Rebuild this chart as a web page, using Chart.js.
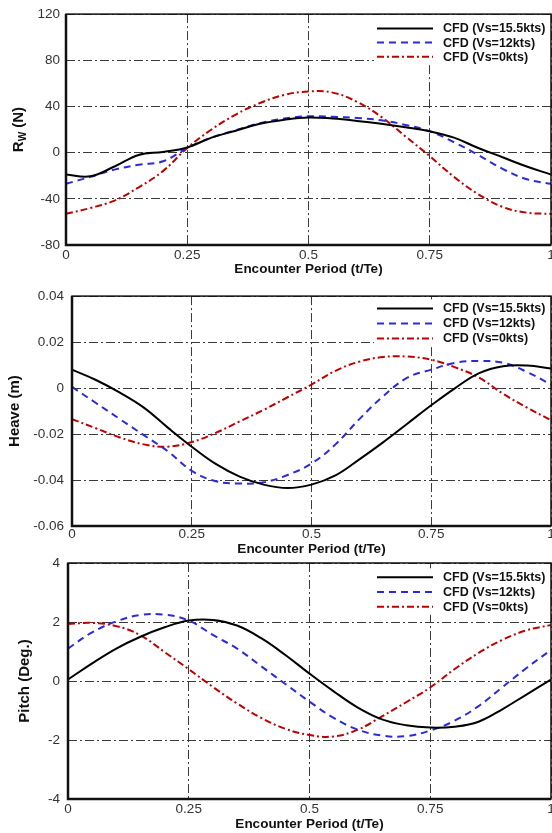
<!DOCTYPE html>
<html>
<head>
<meta charset="utf-8">
<script src="https://cdn.jsdelivr.net/npm/chart.js@4.4.1/dist/chart.umd.min.js"></script>
<style>
  body { margin: 0; background: #fff; width: 552px; height: 833px; overflow: hidden; position: relative; }
  canvas { position: absolute; left: 0; }
</style>
</head>
<body>
<canvas id="rwChart" width="560" height="280" style="top:0"></canvas>
<canvas id="heaveChart" width="560" height="280" style="top:280px"></canvas>
<canvas id="pitchChart" width="560" height="293" style="top:540px"></canvas>
<script>
// encounter period t/Te
const period = [0, 0.05, 0.1, 0.15, 0.2, 0.25, 0.3, 0.35, 0.4, 0.45, 0.5,
                0.55, 0.6, 0.65, 0.7, 0.75, 0.8, 0.85, 0.9, 0.95, 1];
const seriesNames = ['CFD (Vs=15.5kts)', 'CFD (Vs=12kts)', 'CFD (Vs=0kts)'];

// added resistance Rw (N)
const rwFast  = [-19, -20.5, -12, -2, 0.6, 4.5, 13, 19, 25, 28.5, 30.5, 29.5, 27.5, 25, 22, 18.5, 13, 4, -4, -12, -19];
const rwMid   = [-27, -21, -14.7, -10.5, -7.5, 4, 13, 19.5, 25.5, 29.5, 31.5, 31, 30, 28, 24, 18.5, 9, -2, -14, -23, -27];
const rwStill = [-53, -48, -41.5, -30, -16, 4, 20, 33, 43, 50, 53, 52, 44, 31, 14, -3, -21, -36, -47, -52, -53];

// heave (m)
const heaveFast  = [0.008, 0.0035, -0.002, -0.0085, -0.0172, -0.0255, -0.033, -0.0385, -0.042, -0.0435, -0.042,
                    -0.038, -0.031, -0.0235, -0.0155, -0.0075, 0, 0.0065, 0.0095, 0.0098, 0.0085];
const heaveMid   = [0.0005, -0.0065, -0.0135, -0.0205, -0.0275, -0.036, -0.0405, -0.0415, -0.041, -0.0378, -0.0328,
                    -0.0245, -0.0135, -0.0035, 0.0045, 0.008, 0.011, 0.0118, 0.011, 0.007, 0.0015];
const heaveStill = [-0.0135, -0.0175, -0.0215, -0.0245, -0.0255, -0.0235, -0.0195, -0.0145, -0.0095, -0.004, 0.0015,
                    0.0075, 0.0115, 0.0135, 0.0137, 0.0123, 0.009, 0.0045, -0.0025, -0.0085, -0.014];

// pitch (deg)
const pitchFast  = [0.05, 0.6, 1.1, 1.5, 1.82, 2.05, 2.07, 1.88, 1.45, 0.88, 0.25, -0.35, -0.9, -1.3, -1.5, -1.58, -1.55, -1.38, -0.95, -0.45, 0.05];
const pitchMid   = [1.1, 1.65, 2.02, 2.24, 2.25, 2.05, 1.56, 1.1, 0.5, -0.1, -0.7, -1.25, -1.65, -1.85, -1.87, -1.68, -1.35, -0.85, -0.2, 0.45, 1.05];
const pitchStill = [1.93, 1.97, 1.86, 1.55, 0.98, 0.4, -0.2, -0.76, -1.25, -1.62, -1.83, -1.88, -1.65, -1.2, -0.72, -0.22, 0.4, 0.95, 1.4, 1.72, 1.9];

const periodTicks = [0, 0.25, 0.5, 0.75, 1];
const rwTicks = [-80, -40, 0, 40, 80, 120];
const heaveTicks = [-0.06, -0.04, -0.02, 0, 0.02, 0.04];
const pitchTicks = [-4, -2, 0, 2, 4];

const FONT = "'Liberation Sans', Arial, sans-serif";
const lineStyles = [
  { color: '#000000', dash: [] },
  { color: '#2b2bd9', dash: [7, 5] },
  { color: '#c00000', dash: [7, 3, 2, 3] }
];

// white legend box in the upper right of the plot
const boxLegend = {
  id: 'boxLegend',
  afterDatasetsDraw(chart, args, opts) {
    const { ctx, chartArea: a } = chart;
    const rows = chart.data.datasets.map((ds, i) => a.top + opts.first + i * opts.step);
    const top = opts.boxTop != null ? a.top + opts.boxTop : rows[0] - 9;
    ctx.save();
    ctx.fillStyle = '#fff';
    ctx.fillRect(a.right - 177, top, 177, rows[2] + 8 - top);
    chart.data.datasets.forEach((ds, i) => {
      ctx.beginPath();
      ctx.strokeStyle = ds.borderColor;
      ctx.lineWidth = ds.borderWidth;
      ctx.setLineDash(ds.borderDash);
      ctx.moveTo(a.right - 174, rows[i]);
      ctx.lineTo(a.right - 118, rows[i]);
      ctx.stroke();
      ctx.setLineDash([]);
      ctx.fillStyle = '#111';
      ctx.font = 'bold 12.5px ' + FONT;
      ctx.textBaseline = 'middle';
      ctx.fillText(ds.label, a.right - 108, rows[i] + 0.5);
    });
    ctx.restore();
  }
};

// box around the plot, heavier on the left and bottom
const plotFrame = {
  id: 'plotFrame',
  afterDraw(chart) {
    const { ctx, chartArea: a } = chart;
    ctx.save();
    ctx.strokeStyle = '#111';
    ctx.lineWidth = 1.5;
    ctx.strokeRect(a.left, a.top, a.right - a.left, a.bottom - a.top);
    ctx.lineWidth = 2.5;
    ctx.beginPath();
    ctx.moveTo(a.left, a.top);
    ctx.lineTo(a.left, a.bottom);
    ctx.lineTo(a.right, a.bottom);
    ctx.stroke();
    ctx.restore();
  }
};

// R_W (N) with a subscript, drawn rotated beside the y axis
const rwAxisTitle = {
  id: 'rwAxisTitle',
  afterDraw(chart) {
    const { ctx, chartArea: a } = chart;
    const big = 'bold 15px ' + FONT, small = 'bold 10px ' + FONT;
    ctx.save();
    ctx.translate(19, (a.top + a.bottom) / 2);
    ctx.rotate(-Math.PI / 2);
    ctx.fillStyle = '#111';
    ctx.textBaseline = 'middle';
    ctx.font = big;
    const wR = ctx.measureText('R').width, wN = ctx.measureText(' (N)').width;
    ctx.font = small;
    const wW = ctx.measureText('W').width;
    let x = -(wR + wW + wN) / 2;
    ctx.font = big;
    ctx.fillText('R', x, 0);
    x += wR;
    ctx.font = small;
    ctx.fillText('W', x, 4);
    x += wW;
    ctx.font = big;
    ctx.fillText(' (N)', x, 0);
    ctx.restore();
  }
};

function makeChart(id, values, yTicks, yTitle, g, extra) {
  const datasets = values.map((arr, i) => ({
    label: seriesNames[i],
    data: period.map((t, j) => ({ x: t, y: arr[j] })),
    borderColor: lineStyles[i].color,
    borderDash: lineStyles[i].dash,
    borderWidth: 2,
    pointRadius: 0,
    tension: 0.4,
    fill: false
  }));
  const gridStyle = { color: '#3a3a3a', lineWidth: 1, drawTicks: false };
  return new Chart(document.getElementById(id), {
    type: 'line',
    data: { datasets },
    plugins: [boxLegend, plotFrame].concat(extra || []),
    options: {
      responsive: false,
      animation: false,
      layout: { padding: { top: g.top, right: 9, left: 0, bottom: 0 } },
      plugins: {
        legend: { display: false },
        tooltip: { enabled: false },
        boxLegend: g.legend
      },
      scales: {
        x: {
          type: 'linear',
          min: 0, max: 1,
          afterBuildTicks: s => { s.ticks = periodTicks.map(v => ({ value: v })); },
          afterFit: s => { s.height = g.xHeight; },
          grid: gridStyle,
          border: { display: false, dash: [9, 3, 2, 3] },
          ticks: { padding: g.xPad, maxRotation: 0, color: '#333', font: { family: FONT, size: 13.5 }, callback: v => String(v) },
          title: { display: true, text: 'Encounter Period (t/Te)', color: '#111',
                   font: { family: FONT, size: 13.5, weight: 'bold' }, padding: { top: 0, bottom: g.xTitlePad } }
        },
        y: {
          min: yTicks[0], max: yTicks[yTicks.length - 1],
          afterBuildTicks: s => { s.ticks = yTicks.map(v => ({ value: v })); },
          afterFit: s => { s.width = g.yWidth; },
          grid: gridStyle,
          border: { display: false, dash: [9, 3, 2, 3] },
          ticks: { padding: g.yPad, color: '#333', font: { family: FONT, size: 13.5 }, callback: v => String(v) },
          title: { display: !!yTitle, text: yTitle, color: '#111',
                   font: { family: FONT, size: 15, weight: 'bold' }, padding: { top: g.yTitlePad, bottom: 0 } }
        }
      }
    }
  });
}

makeChart('rwChart', [rwFast, rwMid, rwStill], rwTicks, '',
  { top: 9, xHeight: 35, xPad: 2, xTitlePad: 3, yWidth: 66, yPad: 6, yTitlePad: 0,
    legend: { first: 14.3, step: 14.2, boxTop: 1 } }, [rwAxisTitle]);

makeChart('heaveChart', [heaveFast, heaveMid, heaveStill], heaveTicks, 'Heave (m)',
  { top: 11, xHeight: 34, xPad: 0, xTitlePad: 3, yWidth: 72, yPad: 8, yTitlePad: 6,
    legend: { first: 12.3, step: 15, boxTop: null } });

makeChart('pitchChart', [pitchFast, pitchMid, pitchStill], pitchTicks, 'Pitch (Deg.)',
  { top: 23, xHeight: 34, xPad: 2, xTitlePad: 1, yWidth: 68, yPad: 8, yTitlePad: 16,
    legend: { first: 14.3, step: 14.7, boxTop: null } });
</script>
</body>
</html>
